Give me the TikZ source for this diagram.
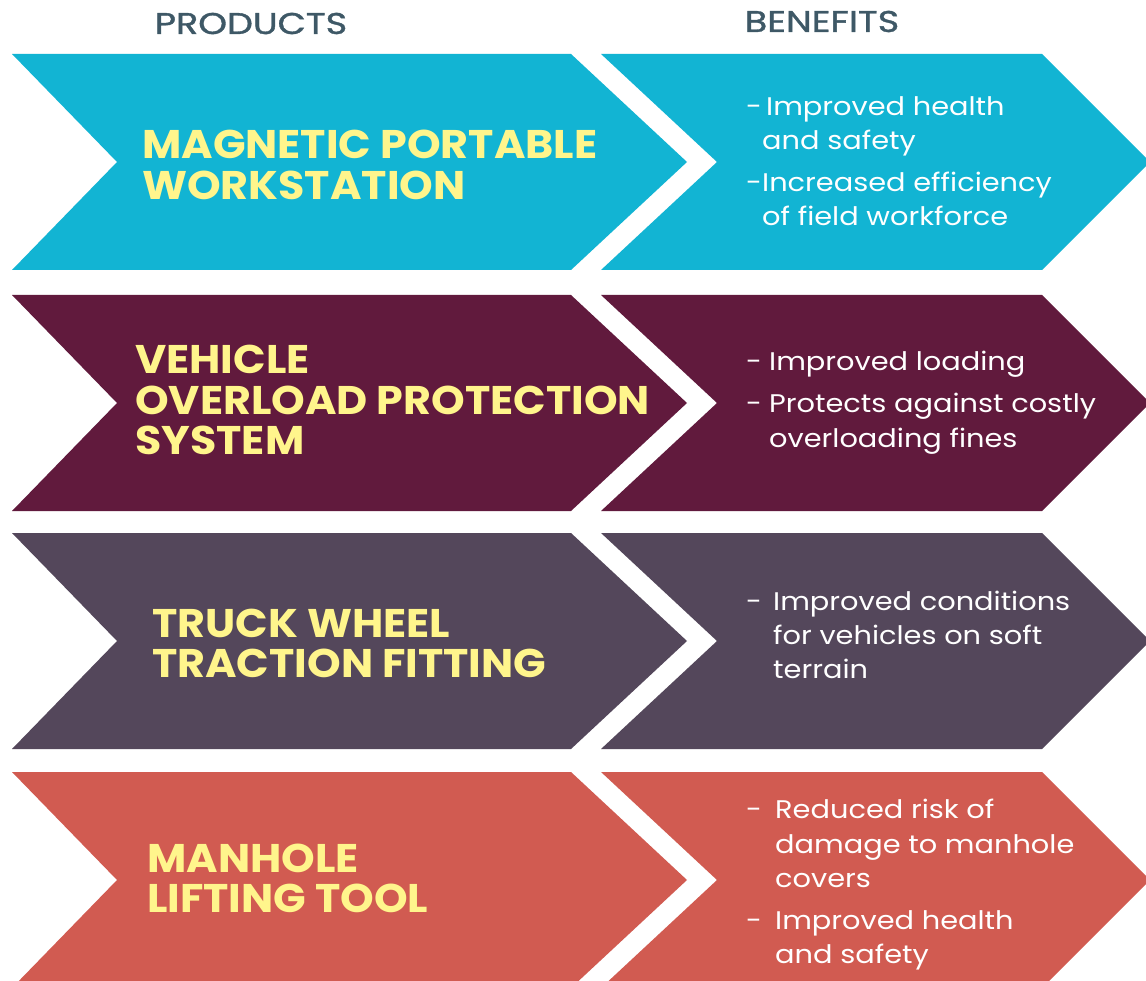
\documentclass[tikz,border=0pt]{standalone}
\usepackage{fontspec}
\setmainfont{Poppins}
\newfontfamily\hfont[FakeStretch=1.22,FakeBold=1.2]{Poppins}
\newfontfamily\tfont[FakeStretch=1.07]{Poppins}
\newfontfamily\bfont[FakeStretch=1.13]{Poppins}
\definecolor{cA}{HTML}{12B4D3}
\definecolor{cB}{HTML}{611A3D}
\definecolor{cC}{HTML}{54475B}
\definecolor{cD}{HTML}{D15B51}
\definecolor{ttl}{HTML}{FFF58C}
\definecolor{hdr}{HTML}{3E5866}
\tikzset{
  hd/.style={font=\hfont\fontsize{30}{30}\selectfont, text=hdr, inner sep=0pt, anchor=base},
  tt/.style={font=\tfont\fontsize{40}{40}\selectfont\bfseries, text=ttl, inner sep=0pt, anchor=base west},
  bt/.style={font=\bfont\fontsize{25.5}{25.5}\selectfont, text=white, inner sep=0pt, anchor=base west},
}
\newcommand\chevrons[2]{%
  \fill[#2] (12,#1) -- (571,#1) -- (687,#1+108) -- (571,#1+216) -- (12,#1+216) -- (117,#1+108) -- cycle;
  \fill[#2] (601,#1) -- (1042,#1) -- (1150,#1+108) -- (1042,#1+216) -- (601,#1+216) -- (717,#1+108) -- cycle;
}
\begin{document}
\begin{tikzpicture}[x=1pt,y=-1pt]
\useasboundingbox (0,0) rectangle (1146,981);
\clip (0,0) rectangle (1146,981);
\fill[white] (0,0) rectangle (1146,981);
\node[hd] (hP) at (251,34) {PRODUCTS};
\node[hd] (hB) at (822,32) {BENEFITS};
\chevrons{54}{cA}
\chevrons{295}{cB}
\chevrons{533}{cC}
\chevrons{772}{cD}
% row 1
\node[tt] (t1a) at (142,159) {MAGNETIC PORTABLE};
\node[tt] (t1b) at (142,200) {WORKSTATION};
\node[bt] (d1a) at (746,116) {-};
\node[bt] (b1a) at (766,116) {Improved health};
\node[bt] (b1b) at (762,150) {and safety};
\node[bt] (d1b) at (746,192) {-};
\node[bt] (b1c) at (762,192) {Increased efficiency};
\node[bt] (b1d) at (762,226) {of field workforce};
% row 2
\node[tt] (t2a) at (135,374) {VEHICLE};
\node[tt] (t2b) at (135,414) {OVERLOAD PROTECTION};
\node[tt] (t2c) at (135,454) {SYSTEM};
\node[bt] (d2a) at (746,371) {-};
\node[bt] (b2a) at (769,371) {Improved loading};
\node[bt] (d2b) at (746,413) {-};
\node[bt] (b2b) at (769,413) {Protects against costly};
\node[bt] (b2c) at (769,447) {overloading fines};
% row 3
\node[tt] (t3a) at (152,637) {TRUCK WHEEL};
\node[tt] (t3b) at (152,677) {TRACTION FITTING};
\node[bt] (d3a) at (746,610) {-};
\node[bt] (b3a) at (773,610) {Improved conditions};
\node[bt] (b3b) at (773,644) {for vehicles on soft};
\node[bt] (b3c) at (773,678) {terrain};
% row 4
\node[tt] (t4a) at (147,872) {MANHOLE};
\node[tt] (t4b) at (147,912) {LIFTING TOOL};
\node[bt] (d4a) at (746,818) {-};
\node[bt] (b4a) at (775,818) {Reduced risk of};
\node[bt] (b4b) at (775,853) {damage to manhole};
\node[bt] (b4c) at (775,887) {covers};
\node[bt] (d4b) at (746,929) {-};
\node[bt] (b4d) at (775,929) {Improved health};
\node[bt] (b4e) at (775,963) {and safety};
\end{tikzpicture}
\end{document}
